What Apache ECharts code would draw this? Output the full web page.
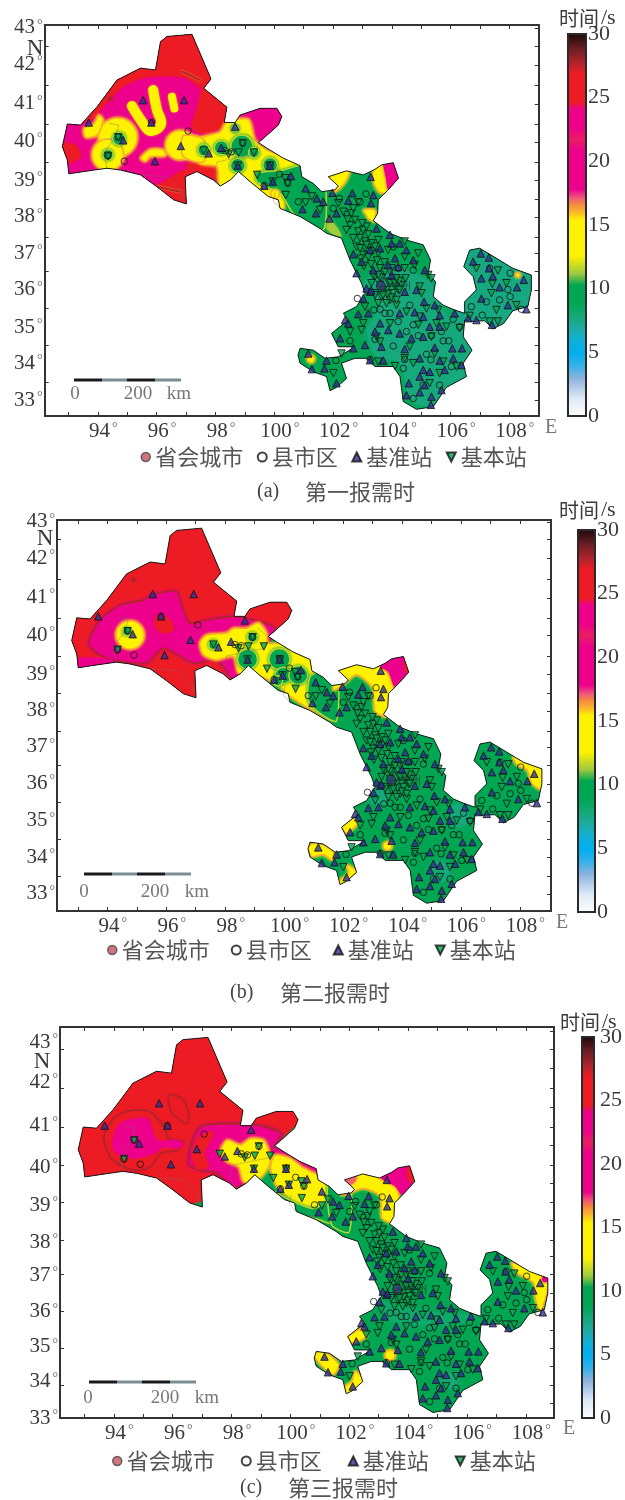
<!DOCTYPE html>
<html><head><meta charset="utf-8">
<style>html,body{margin:0;padding:0;background:#fff;overflow:hidden}#c{width:625px;height:1500px}</style>
<script src="https://cdn.jsdelivr.net/npm/echarts@6/dist/echarts.min.js"></script>
</head><body><div id="c"></div>
<script>
// ---------- colour scale (time, s) ----------
const colorStops=[[0,'#ffffff'],[1.5,'#dbe8f5'],[3,'#8db3dd'],[4,'#35b1e8'],[5,'#00aeef'],[6,'#11b0d6'],[7,'#1dab9e'],[8,'#13a874'],[9,'#00a651'],[10.3,'#00a651'],[11.2,'#9ec93f'],[12.6,'#fff200'],[15.4,'#fff200'],[16,'#fbb62c'],[16.6,'#f58a3e'],[17.2,'#ee4f7d'],[17.8,'#ec008c'],[20.8,'#ec008c'],[21.7,'#e91e63'],[22.6,'#ec008c'],[24,'#ec008c'],[24.6,'#ed1c24'],[26.8,'#ed1c24'],[27.6,'#b4232b'],[28.8,'#6a1f24'],[30,'#1c0707']];
// ---------- axes ----------
const lonTicks=[93,94,95,96,97,98,99,100,101,102,103,104,105,106,107,108];
const lonLabels=[94,96,98,100,102,104,106,108];
const latNames=[43,42,41,40,39,38,37,36,35,34,33];
const latPos=[43.00,42.01,40.96,39.94,38.91,37.92,36.95,35.96,34.96,33.99,33.00];
const latPosC=[42.70,41.63,40.47,39.34,38.32,37.33,36.44,35.45,34.51,33.59,32.60];
const latHalf=[42.52,41.47,40.42,39.40,38.40,37.38,36.47,35.47,34.48,33.48];
// ---------- province outline (lon, lat) ----------
const outline=[[96.13,42.63],[96.35,42.77],[97.20,42.83],[97.85,41.63],[97.60,41.38],[98.39,40.87],[98.30,40.46],[98.67,40.46],[98.84,40.66],[99.52,40.84],[100.09,40.84],[100.26,40.62],[100.14,40.39],[99.63,40.03],[99.46,39.92],[99.75,39.77],[100.31,39.50],[100.88,39.30],[100.94,39.00],[101.33,38.82],[101.62,38.60],[102.07,38.65],[102.18,38.75],[101.84,39.00],[102.46,39.16],[103.03,39.05],[103.43,39.20],[103.65,39.32],[104.05,39.38],[104.23,38.96],[103.88,38.65],[103.54,38.38],[103.52,38.02],[103.37,37.82],[103.94,37.48],[104.50,37.30],[105.07,37.17],[105.32,36.76],[105.24,36.41],[105.49,36.18],[105.41,35.78],[105.75,35.55],[106.14,35.42],[106.48,35.33],[106.48,35.64],[106.88,35.96],[106.77,36.32],[106.45,36.58],[106.65,37.03],[106.99,37.08],[107.56,36.81],[108.12,36.54],[108.75,36.36],[108.75,35.96],[108.63,35.51],[108.12,35.40],[107.81,35.06],[107.44,34.91],[107.16,35.13],[106.65,35.11],[106.48,35.15],[106.43,34.70],[106.73,34.34],[106.43,33.99],[106.54,33.63],[105.86,33.34],[105.41,32.82],[104.84,32.75],[104.39,32.96],[104.28,33.63],[104.05,33.90],[103.43,33.90],[103.14,34.12],[102.75,34.12],[102.29,33.99],[102.46,33.58],[102.12,33.34],[101.90,33.25],[101.78,33.63],[101.33,33.76],[100.88,33.99],[100.81,34.21],[100.88,34.39],[101.33,34.34],[101.73,34.12],[102.18,34.16],[102.75,34.43],[102.18,34.43],[101.95,34.79],[102.52,35.15],[102.35,35.33],[102.80,35.51],[103.09,35.87],[102.97,36.14],[102.58,36.76],[102.29,37.35],[101.78,37.48],[101.56,37.61],[100.88,37.93],[100.20,38.15],[100.14,38.38],[99.80,38.47],[99.18,38.87],[98.79,39.14],[98.50,38.91],[98.16,38.75],[97.94,38.91],[97.37,39.14],[96.97,39.00],[97.01,38.27],[96.58,38.38],[96.01,38.73],[95.45,39.05],[94.77,39.18],[94.31,39.23],[93.86,39.18],[93.01,39.08],[92.96,39.45],[92.79,39.81],[92.96,40.42],[93.41,40.39],[93.98,40.89],[94.65,41.60],[95.45,41.92],[95.96,41.87]];
const boundaries=[[[94.37,40.44],[94.71,40.39],[94.6,40.08],[94.2,39.63],[94.31,39.23]],[[95.45,39.05],[96.35,39.0],[96.92,38.55],[96.86,38.38]],[[99.07,40.17],[99.46,39.9],[99.3,39.6],[98.05,39.4],[97.94,39.05],[98.16,38.75]],[[100.03,38.6],[99.97,38.35],[100.2,38.15]]];
// ---------- stations (lon, lat) ----------
const refStations=[[93.69,40.46],[95.54,41.06],[96.93,41.06],[95.82,40.46],[94.86,39.98],[95.94,39.42],[96.82,39.83],[98.67,40.35],[97.77,39.63],[98.20,39.78],[100.57,39.02],[101.07,38.69],[101.45,38.42],[100.96,38.13],[101.42,38.02],[99.66,38.76],[98.76,39.30],[99.95,38.87],[99.85,39.30],[103.28,39.00],[101.67,38.33],[101.98,38.57],[102.52,38.36],[102.66,38.56],[103.37,38.51],[103.29,38.29],[101.88,37.88],[102.12,38.02],[103.48,37.61],[103.94,37.44],[103.99,37.21],[104.50,37.03],[104.27,37.21],[102.69,36.92],[102.97,36.72],[103.26,37.03],[103.60,37.08],[104.11,36.81],[104.73,36.76],[104.22,36.58],[105.12,36.49],[102.80,36.41],[103.37,36.49],[103.88,36.63],[104.84,35.96],[104.44,35.91],[105.10,35.64],[105.46,35.55],[103.26,35.91],[103.03,35.73],[102.41,35.15],[102.86,35.31],[103.20,35.33],[103.60,35.06],[102.52,35.06],[103.43,34.84],[103.88,34.88],[104.27,34.79],[104.78,35.36],[104.27,35.33],[105.07,35.24],[105.63,35.28],[106.14,35.33],[105.29,34.97],[105.63,34.97],[105.07,34.70],[104.67,34.66],[103.65,34.43],[103.09,34.48],[102.69,34.39],[102.24,34.66],[104.44,34.37],[105.46,34.41],[106.06,34.39],[106.39,34.39],[107.03,36.94],[107.30,36.83],[106.77,36.72],[107.31,36.54],[107.05,36.27],[107.44,36.33],[107.67,36.03],[108.26,36.03],[108.49,36.23],[107.05,35.73],[107.95,35.55],[108.58,35.44],[106.60,35.20],[106.88,35.15],[107.41,35.02],[104.95,34.12],[105.63,34.06],[106.09,34.12],[106.37,33.94],[105.80,33.81],[105.07,33.81],[104.58,33.45],[104.95,33.63],[105.29,33.76],[105.12,33.40],[105.69,33.27],[104.95,33.21],[104.50,33.13],[105.35,33.09],[105.33,32.87],[103.71,34.06],[103.26,34.07],[101.78,34.06],[102.12,33.45],[101.28,33.83],[101.71,33.85],[101.16,34.25],[103.14,36.0],[103.3,35.95],[104.0,36.35]];
const baseStations=[[94.35,39.56],[94.69,40.06],[97.60,39.70],[98.45,39.60],[98.79,39.65],[98.93,39.90],[99.31,39.65],[98.76,39.30],[99.85,39.30],[99.42,39.05],[99.95,38.87],[100.37,38.96],[100.46,38.83],[100.39,38.51],[101.07,38.31],[101.28,38.47],[101.56,38.11],[102.86,38.31],[102.18,38.29],[102.46,37.97],[102.63,38.02],[102.75,37.84],[102.58,37.70],[102.86,37.53],[103.03,37.57],[102.46,37.57],[103.14,37.66],[102.92,37.35],[102.69,37.35],[103.09,37.26],[103.31,37.21],[103.54,37.30],[102.80,37.12],[103.09,37.08],[103.31,36.99],[103.54,36.94],[103.03,36.90],[103.88,37.03],[104.44,37.26],[104.90,36.94],[104.44,36.85],[104.78,36.63],[104.44,36.54],[104.47,36.27],[103.60,36.54],[103.77,36.45],[103.43,36.32],[103.65,36.27],[103.94,36.45],[104.11,36.27],[103.88,36.18],[103.60,36.09],[104.11,36.05],[104.33,36.09],[103.82,35.96],[104.05,35.87],[103.94,35.69],[104.22,35.96],[103.43,35.87],[103.65,35.78],[104.95,36.05],[105.01,35.87],[105.24,36.36],[105.35,36.27],[104.16,35.55],[103.82,35.60],[103.09,35.51],[102.58,34.84],[103.03,35.06],[102.97,34.88],[103.48,34.70],[103.60,34.57],[103.94,35.06],[104.50,35.37],[104.90,35.02],[104.95,35.24],[105.18,35.46],[105.58,35.42],[105.35,34.70],[105.52,35.06],[106.31,34.93],[105.86,34.97],[105.46,34.25],[104.61,34.43],[105.75,34.03],[106.20,33.90],[104.44,34.12],[104.73,33.99],[103.54,34.03],[104.11,33.91],[102.29,34.25],[102.01,33.72],[105.63,33.72],[105.29,33.45],[106.65,35.26],[106.88,36.54],[107.61,36.48],[107.90,36.14],[107.42,36.12],[107.39,35.87],[108.24,35.55],[107.56,35.42],[107.61,35.11],[107.33,35.11],[102.35,38.06],[102.69,38.15],[102.5,37.85],[103.2,37.45],[103.0,37.75],[103.75,36.7],[103.6,36.3],[103.95,36.15],[104.0,35.75],[103.7,35.95],[104.25,36.2],[103.85,35.85],[104.1,36.15],[103.37,36.36],[103.54,36.36],[103.99,36.54],[103.31,36.14],[104.16,36.27],[103.71,35.82],[104.16,35.69],[104.27,35.96],[103.43,35.82],[103.54,35.60],[102.92,37.08],[103.14,37.17],[103.43,37.12],[102.95,36.8],[103.2,36.85],[103.5,36.75],[103.05,36.6],[103.3,36.65]];
const countyTowns=[[94.69,40.07],[94.34,39.56],[94.90,39.42],[97.07,40.23],[95.82,40.46],[98.93,39.90],[98.33,39.70],[98.54,39.67],[99.86,39.32],[100.18,39.07],[100.46,38.83],[99.66,38.76],[100.82,38.33],[103.12,38.54],[102.01,38.15],[102.22,38.42],[102.92,38.33],[104.05,37.12],[104.73,36.49],[104.22,36.54],[102.83,35.73],[103.39,35.42],[103.60,35.44],[103.77,35.33],[103.94,35.33],[104.61,35.55],[104.22,35.11],[104.50,34.84],[104.73,35.02],[104.90,34.73],[105.35,34.73],[105.75,34.59],[105.94,34.59],[105.69,34.84],[106.09,35.17],[106.31,34.97],[104.05,34.45],[103.43,34.63],[102.58,34.59],[102.10,34.06],[103.26,34.09],[104.44,34.09],[105.18,34.23],[105.33,34.08],[104.39,33.85],[105.07,33.40],[104.73,33.04],[105.63,33.40],[106.71,35.51],[107.22,35.64],[107.67,35.69],[108.03,36.41],[108.03,35.78],[107.33,36.54],[107.95,35.97],[108.41,35.44],[107.08,35.28],[106.03,33.90]];
const capitalCity=[[103.63,36.07]];
// ---------- interpolated field, layers drawn in order: v = time in s ----------
const fieldA=[
{v:9.6,p:[[92,44],[110,44],[110,32],[92,32]]},
{v:7.8,p:[[103.03,36.14],[104.05,36.58],[105.35,36.14],[105.75,35.42],[106.76,34.34],[106.54,33.63],[105.41,32.82],[104.61,33.0],[104.27,33.99],[103.48,34.16],[103.14,34.88],[103.60,35.51]]},
{v:7.7,p:[[106.3,37.2],[108.9,37.2],[108.9,34.8],[106.3,34.8]]},
{v:11.3,p:[[101.5,37.85],[101.88,37.88],[102.3,37.4],[101.95,37.48]]},
{v:19,p:[[92.62,43.04],[100.54,43.04],[100.54,40.35],[99.63,39.81],[98.84,38.73],[92.62,38.02]]},
{v:25.5,p:[[96.01,42.95],[97.37,42.95],[98.62,40.80],[98.33,40.84],[97.60,41.33],[97.03,41.65],[96.35,41.71],[95.56,41.67],[94.88,41.44],[94.43,41.11],[94.09,40.80],[93.75,40.53],[92.73,40.44],[94.09,41.60],[95.56,42.23]]},
{v:25.5,p:[[97.60,41.38],[98.50,40.89],[98.39,40.44],[97.71,40.17],[97.20,40.30],[97.37,40.80]]},
{v:25.5,p:[[96.01,38.73],[96.35,38.91],[97.03,39.18],[97.09,38.15],[96.47,38.29]]},
{v:25.5,p:[[92.73,39.90],[93.24,39.85],[93.41,39.54],[92.96,39.36],[92.73,39.54]]},
{v:24.8,p:[[97.03,39.36],[98.05,39.23],[98.28,38.87],[97.71,39.0],[97.14,39.09]]},
{v:23,p:[[99.63,40.85],[100.1,40.9],[100.3,40.6],[100.1,40.33],[99.8,40.2]]},
{v:27.6,c:[94.43,41.1],r:.08},
{v:27.6,l:[[96.86,41.83],[97.48,41.60]],w:2},
{v:27.6,l:[[96.01,38.73],[96.8,38.6]],w:2},
{v:14,p:[[97.37,39.99],[98.16,40.21],[98.39,40.48],[99.13,40.54],[99.35,39.99],[99.75,39.72],[100.94,39.32],[100.43,38.87],[100.31,38.11],[99.75,38.38],[99.07,38.91],[98.16,38.73],[98.05,39.27],[97.48,39.36]]},
{v:14,c:[96.80,39.85],r:.5},
{v:14,p:[[96.9,40.1],[97.6,40.0],[97.6,39.4],[96.9,39.55]]},
{v:14,p:[[95.45,39.50],[95.79,39.74],[96.24,39.72],[96.30,39.56],[95.79,39.54],[95.62,39.41]]},
{v:14,c:[94.68,40.06],r:.66},
{v:14,c:[94.34,39.59],r:.54},
{v:14,p:[[94.03,40.66],[94.18,40.53],[93.98,40.12],[93.58,40.06],[93.52,40.30],[93.86,40.42]]},
{v:14,l:[[95.16,40.90],[95.50,40.48],[95.79,40.23],[96.15,40.42],[96.01,40.80],[95.88,41.33]],w:10},
{v:14,l:[[96.52,41.15],[96.60,40.84]],w:8},
{v:9.6,c:[94.34,39.59],r:.18},
{v:9.6,c:[94.72,40.02],r:.22},
{v:9.6,c:[97.6,39.72],r:.2},
{v:9.6,c:[98.2,39.78],r:.24},
{v:9.6,c:[98.90,39.82],r:.38},
{v:9.6,c:[98.76,39.3],r:.25},
{v:11,c:[98.67,40.3],r:.18},
{v:9.6,c:[99.31,39.65],r:.18},
{v:9.6,c:[99.86,39.32],r:.25},
{v:9.6,p:[[99.41,39.09],[100.31,39.18],[100.99,39.32],[101.67,39.09],[101.67,37.57],[100.65,38.02],[100.26,38.51],[99.86,38.69],[99.41,38.87]]},
{v:14,c:[100.03,38.54],r:.15},
{v:14,p:[[101.78,39.09],[102.58,39.23],[102.46,38.91],[102.24,38.69],[102.01,38.60]]},
{v:14,p:[[103.39,39.36],[103.77,39.36],[103.91,38.60],[103.6,38.57],[103.39,38.82]]},
{v:19,p:[[103.73,39.45],[104.28,39.45],[104.28,38.87],[103.91,38.60],[103.80,38.96]]},
{v:14,p:[[103.03,38.11],[103.43,38.11],[103.43,37.79],[103.2,37.88],[103.09,38.02]]},
{v:14,c:[108.29,36.36],r:.08},
{v:13,c:[101.25,34.1],r:.13}
];
const fieldB=[
{v:9.6,p:[[92,44],[110,44],[110,32],[92,32]]},
{v:7.8,c:[103.2,35.6],r:.3},{v:7.8,c:[105.9,35.1],r:.4},{v:7.8,c:[105.3,33.6],r:.35},
{v:25.5,p:[[92.62,43.05],[100.54,43.05],[100.54,40.46],[99.52,39.83],[98.28,38.57],[92.62,38.21]]},
{v:27.6,c:[94.9,41.45],r:.08},
{v:19.5,s:27.6,w:2,p:[[93.35,39.74],[93.75,40.37],[94.43,40.77],[95.22,40.90],[95.50,41.04],[96.35,41.13],[96.58,40.63],[96.80,40.28],[97.37,40.37],[98.28,40.46],[99.18,40.32],[99.69,40.14],[99.52,39.83],[98.96,39.29],[98.28,38.75],[97.71,39.29],[96.92,39.20],[95.90,39.60],[95.33,39.20],[94.20,39.29],[93.64,39.47]]},
{v:20,p:[[93.01,39.33],[94.2,39.29],[94.25,39.11],[93.01,39.07]]},
{v:25,p:[[95.67,40.46],[96.07,40.41],[96.24,40.10],[95.90,40.01],[95.62,40.19]]},
{v:14,c:[94.77,39.96],r:.48},
{v:9.6,c:[94.65,40.05],r:.13},
{v:14,p:[[97.14,39.74],[97.37,39.96],[98.05,40.01],[98.28,40.14],[98.73,40.14],[99.13,40.29],[99.41,40.01],[99.46,39.74],[100.09,39.74],[101.22,39.29],[101.67,38.93],[101.67,37.68],[100.20,38.30],[99.86,38.57],[98.96,38.93],[98.45,38.93],[98.28,39.38],[97.71,39.29],[97.26,39.42]]},
{v:9.6,c:[98.76,39.31],r:.34},{v:9.6,c:[99.84,39.31],r:.36},{v:9.6,c:[99.97,38.87],r:.28},{v:9.6,c:[100.48,38.88],r:.32},{v:9.6,c:[98.92,39.90],r:.17},{v:9.6,c:[97.6,39.7],r:.16},{v:9.6,c:[99.78,38.73],r:.17},
{v:9.6,p:[[100.88,38.84],[101.22,38.98],[101.78,39.1],[101.78,37.65],[101.22,37.85],[100.82,38.2]]},
{v:14,p:[[101.84,39.02],[102.58,39.20],[103.31,39.11],[103.71,38.66],[103.54,37.77],[103.09,37.90],[103.0,38.53],[102.46,38.89],[102.01,38.62],[101.67,38.48]]},
{v:19.5,p:[[103.26,39.11],[103.94,39.40],[104.33,39.2],[104.28,38.80],[103.77,38.56],[103.54,38.98]]},
{v:25,p:[[104.1,39.35],[104.35,39.2],[104.25,38.9],[104.1,39.0]]},
{v:14,p:[[107.78,36.69],[108.75,36.38],[108.75,35.80],[108.41,35.97],[108.24,36.33],[107.9,36.47]]},
{v:14,p:[[101.95,34.81],[102.35,35.03],[102.49,34.88],[102.12,34.63]]},
{v:14,c:[103.51,34.29],r:.15},
{v:14,p:[[100.82,34.27],[101.11,34.38],[101.67,34.14],[101.62,33.91],[101.33,34.05],[100.94,34.0]]},
{v:14,p:[[102.12,33.78],[102.49,33.60],[102.41,33.42],[101.90,33.20],[101.84,33.33],[102.18,33.56]]}
];
const fieldC=[
{v:9.6,p:[[92,44],[110,44],[110,32],[92,32]]},
{v:8.2,p:[[102.83,35.83],[103.73,35.56],[106.33,35.34],[105.66,35.11],[103.51,35.16]]},{v:8,c:[105.4,33.6],r:.3},
{v:25.5,p:[[92.75,43.2],[100.56,43.2],[100.56,40.88],[99.54,39.98],[98.30,38.73],[92.75,38.19]]},
{v:25.2,s:27.6,w:2,p:[[93.66,40.16],[94.05,40.70],[94.68,40.88],[95.24,40.83],[95.70,40.43],[95.87,40.11],[96.37,40.03],[96.15,39.80],[95.58,39.71],[95.24,39.35],[94.79,39.26],[94.34,39.35],[93.88,39.62]]},
{v:19.5,p:[[93.94,39.98],[94.22,40.52],[95.13,40.65],[95.47,40.07],[96.15,40.07],[96.37,39.96],[96.15,39.85],[95.70,39.89],[95.36,39.71],[94.68,39.58],[94.11,39.71]]},
{v:25,s:27.6,w:2,p:[[95.87,41.28],[96.32,41.19],[96.54,40.83],[96.49,40.52],[95.98,40.79]]},
{v:19.5,s:27.6,w:2.5,p:[[96.54,39.40],[96.60,39.89],[96.94,40.43],[98.07,40.52],[99.20,40.43],[99.71,40.23],[99.43,39.85],[98.75,39.08],[98.07,38.77],[97.51,39.17],[96.94,39.26]]},
{v:25,p:[[96.66,39.62],[96.83,40.11],[97.39,40.29],[97.08,39.71],[97.22,39.35],[96.83,39.31]]},
{v:19.5,p:[[99.37,39.8],[99.85,39.85],[100.95,39.35],[100.95,39.05],[100.0,39.4]]},
{v:14,p:[[97.62,39.76],[97.85,40.07],[98.30,39.94],[98.64,40.11],[99.09,40.07],[99.32,39.62],[99.20,39.26],[98.86,38.98],[98.41,38.95],[98.24,39.35],[97.85,39.49]]},
{v:14,p:[[99.32,39.35],[99.49,39.67],[100.0,39.58],[100.39,39.35],[100.85,39.17],[101.47,38.90],[101.92,38.55],[101.47,38.0],[100.85,38.19],[100.17,38.19],[100.0,38.46],[99.54,38.82]]},
{v:9.6,p:[[99.49,38.68],[100.11,38.14],[101.02,37.92],[101.47,37.83],[101.92,38.73],[101.24,38.41],[100.79,38.23],[100.22,38.37],[99.77,38.55]]},
{v:9.6,p:[[101.3,39.0],[102,39.05],[102,37.6],[101.4,37.8]]},
{v:14,p:[[101.81,39.01],[102.43,39.19],[103.05,39.06],[103.68,38.79],[103.51,37.85],[103.11,37.98],[103.05,38.56],[102.49,38.77],[101.92,38.61],[101.69,38.61]]},
{v:17,p:[[101.75,39.01],[102.25,39.15],[102.2,38.95],[101.95,38.85]]},
{v:19.5,p:[[103.05,39.08],[103.73,39.34],[104.18,39.37],[104.18,38.97],[103.79,38.61],[103.56,38.83]]},
{v:25,p:[[104.0,39.35],[104.2,39.3],[104.2,38.95],[104.0,39.0]]},
{v:14,p:[[101.86,34.71],[102.43,35.01],[102.60,34.80],[102.15,34.62]]},
{v:14,c:[103.39,34.29],r:.18},
{v:14,p:[[100.79,34.31],[101.13,34.40],[101.64,34.04],[101.47,33.77],[101.02,34.04]]},
{v:14,p:[[102.20,33.86],[102.49,33.59],[101.86,33.22],[101.75,33.39],[102.09,33.59]]},
{v:14,p:[[107.52,36.77],[108.03,36.64],[108.71,36.32],[108.71,35.92],[108.49,35.47],[108.32,35.83],[108.26,36.24],[107.69,36.50]]},
{v:19.5,c:[108.65,36.33],r:.1}
];
// ---------- helpers ----------
function hex(c){return [1,3,5].map(i=>parseInt(c.substr(i,2),16));}
function colorOf(v){
  for(let i=1;i<colorStops.length;i++){
    if(v<=colorStops[i][0]){
      const a=colorStops[i-1],b=colorStops[i],t=(v-a[0])/(b[0]-a[0]),x=hex(a[1]),y=hex(b[1]);
      return 'rgb('+x.map((q,k)=>Math.round(q+(y[k]-q)*t)).join(',')+')';
    }
  }
  return colorStops[colorStops.length-1][1];
}
const serif='"Liberation Serif",serif', cjk='"Noto Sans CJK SC",sans-serif', ink='#3a3a3a';
function edgeFor(v){ if(v>=13&&v<=15) return 16.2; if(v>=9&&v<=10) return 11.6; return null; }
function fieldSeries(field,ax){
  return {type:'custom',name:'field',silent:true,xAxisIndex:ax,yAxisIndex:ax,coordinateSystem:'cartesian2d',clip:true,z:1,
    data:field.map((_,i)=>[i]),encode:{x:-1,y:-1},
    renderItem(params,api){
      const r=field[params.dataIndex],fill=colorOf(r.v),first=params.dataIndex===0;
      const pts=o=>o.map(p=>api.coord(p));
      const e=r.s!==undefined?r.s:(first?null:edgeFor(r.v));
      const stroke=e?colorOf(e):fill, w=r.w||(e?1.5:0), blur=r.v<9?12:3;
      let el;
      if(r.p) el={type:'polygon',shape:{points:pts(r.p),smooth:.25},style:{fill,stroke,lineWidth:w,shadowBlur:blur,shadowColor:fill}};
      else if(r.c){const c=api.coord(r.c);el={type:'circle',shape:{cx:c[0],cy:c[1],r:api.size([r.r,0])[0]},style:{fill,stroke,lineWidth:w,shadowBlur:blur,shadowColor:fill}};}
      else el={type:'polyline',shape:{points:pts(r.l),smooth:.4},style:{fill:'none',stroke:fill,lineWidth:r.w,lineCap:'round',shadowBlur:2,shadowColor:colorOf(16.2)}};
      return {type:'group',clipPath:{type:'polygon',shape:{points:pts(outline)}},children:[el]};
    }};
}
function borderSeries(ax){
  return {type:'custom',name:'outline',silent:true,xAxisIndex:ax,yAxisIndex:ax,z:2,clip:true,data:[[0]],encode:{x:-1,y:-1},
    renderItem(params,api){
      const kids=boundaries.map(b=>({type:'polyline',shape:{points:b.map(p=>api.coord(p))},style:{fill:'none',stroke:'rgba(110,110,110,.55)',lineWidth:.7}}));
      kids.push({type:'polygon',shape:{points:outline.map(p=>api.coord(p))},style:{fill:'none',stroke:'#1a1a1a',lineWidth:1}});
      return {type:'group',children:kids};
    }};
}
function stationSeries(ax){
  const c={xAxisIndex:ax,yAxisIndex:ax,type:'scatter',silent:true,clip:true,animation:false};
  return [
   {...c,name:'基本站',data:baseStations,z:4,symbol:'triangle',symbolRotate:180,symbolSize:7.5,itemStyle:{color:'#00a651',borderColor:'#111',borderWidth:1}},
   {...c,name:'县市区',data:countyTowns,z:5,symbol:'circle',symbolSize:6.5,itemStyle:{color:'rgba(0,0,0,0)',borderColor:'#111',borderWidth:1}},
   {...c,name:'基准站',data:refStations,z:6,symbol:'triangle',symbolSize:7.5,itemStyle:{color:'#2e3192',borderColor:'#111',borderWidth:1}},
   {...c,name:'省会城市',data:capitalCity,z:7,symbol:'circle',symbolSize:9,itemStyle:{color:'#34386f',borderColor:'#222',borderWidth:1},
     label:{show:true,formatter:'兰州',position:'right',distance:3,fontFamily:cjk,fontSize:11,color:'#1d3b2a'}}
  ];
}
const deg=n=>'{n|'+n+'}{d|°}';
const lblRich={n:{fontFamily:serif,fontSize:21,color:ink},d:{fontFamily:serif,fontSize:14,color:'#666',padding:[0,0,6,2]},s:{width:11}};
const frame={show:true,onZero:false,lineStyle:{color:'#333',width:2}};
const panels=[
 {g:[44.7,25],x:[92.19,109],y:[32.57,43.08],latL:latPos,cb:[568,34,18,382],cbPad:0,cbM:2,
  leg:{left:135.5,top:441,gap:13.5},cap:['(a)',257,'第一报需时',305,492],title:[559,18],N:[35,49],E:[551,428],
  sb:[74,380,75,138,179,394],field:fieldA},
 {g:[57,520],x:[92.29,109.06],y:[32.54,43.05],latL:latPos,cb:[578,530,17,382],cbPad:0,cbM:2,
  leg:{left:102,top:934,gap:21},cap:['(b)',230,'第二报需时',280,993],title:[559,510],N:[45,539],E:[562,923],
  sb:[84,874,84,155,197,892],field:fieldB},
 {g:[60,1027],x:[92.17,108.96],y:[32.60,43.11],latL:latPosC,cb:[582,1037,16,381],cbPad:24,cbM:6,
  leg:{left:107,top:1445,gap:26},cap:['(c)',240,'第三报需时',288,1488],title:[560,1022],N:[42,1062],E:[569,1429],
  sb:[89,1382,88,165,207,1398],field:fieldC}
];
const grid=[],xAxis=[],yAxis=[],series=[],legend=[],graphic=[];
const latAll=latPos.concat(latHalf).sort((a,b)=>a-b);
const downIcon='path://M0,0L10,0L5,10Z';
panels.forEach((P,i)=>{
  const ax=i*3;
  grid.push({left:P.g[0],top:P.g[1],width:494,height:391});
  const gi=grid.length-1;
  xAxis.push({type:'value',gridIndex:gi,position:'bottom',min:P.x[0],max:P.x[1],axisLine:frame,splitLine:{show:false},
    axisTick:{show:true,inside:true,length:4,customValues:lonTicks,lineStyle:{color:'#333',width:1}},
    axisLabel:{show:true,customValues:lonLabels,margin:5,hideOverlap:false,showMinLabel:true,showMaxLabel:true,formatter:v=>'{s|}{n|'+v+'}{d|°}',rich:lblRich}});
  xAxis.push({type:'value',gridIndex:gi,position:'top',min:P.x[0],max:P.x[1],axisLine:frame,splitLine:{show:false},
    axisTick:{show:true,inside:true,length:4,customValues:lonTicks,lineStyle:{color:'#333',width:1}},axisLabel:{show:false}});
  yAxis.push({type:'value',gridIndex:gi,position:'left',min:P.y[0],max:P.y[1],axisLine:frame,splitLine:{show:false},
    axisTick:{show:true,inside:true,length:4,customValues:latHalf,lineStyle:{color:'#333',width:1}},
    axisLabel:{show:true,customValues:P.latL,margin:2,hideOverlap:false,showMinLabel:true,showMaxLabel:true,
      formatter:v=>deg(latNames[P.latL.indexOf(v)]),rich:lblRich}});
  yAxis.push({type:'value',gridIndex:gi,position:'right',min:P.y[0],max:P.y[1],axisLine:frame,splitLine:{show:false},
    axisTick:{show:true,inside:true,length:4,customValues:latAll,lineStyle:{color:'#333',width:1}},axisLabel:{show:false}});
  series.push(fieldSeries(P.field,ax));
  series.push(borderSeries(ax));
  series.push(...stationSeries(ax));
  legend.push({left:P.leg.left,top:P.leg.top,itemGap:P.leg.gap,itemWidth:9,itemHeight:9,selectedMode:false,orient:'horizontal',
    data:[{name:'省会城市',itemStyle:{color:'#c4535c',borderColor:'#444',borderWidth:1.5}},'县市区','基准站',{name:'基本站',icon:downIcon}],textStyle:{fontFamily:cjk,fontSize:22,color:'#555'}});
  // colour bar
  grid.push({left:P.cb[0],top:P.cb[1],width:P.cb[2],height:P.cb[3]});
  const cbi=grid.length-1;
  xAxis.push({type:'value',gridIndex:cbi,min:0,max:1,show:false});
  yAxis.push({type:'value',gridIndex:cbi,position:'right',min:0,max:30,interval:5,axisLine:{show:false},splitLine:{show:false},
    axisTick:{show:true,inside:false,length:3,lineStyle:{color:'#333'}},
    axisLabel:{show:true,margin:P.cbM,fontFamily:serif,fontSize:22,color:ink,padding:[P.cbPad,0,0,0],showMinLabel:true,showMaxLabel:true}});
  series.push({type:'custom',name:'colorbar',silent:true,xAxisIndex:xAxis.length-1,yAxisIndex:yAxis.length-1,data:[[0,0]],clip:false,encode:{x:-1,y:-1},
    renderItem(params,api){
      const a=api.coord([0,30]),b=api.coord([1,0]);
      return {type:'rect',shape:{x:a[0],y:a[1],width:b[0]-a[0],height:b[1]-a[1]},
        style:{fill:new echarts.graphic.LinearGradient(0,1,0,0,colorStops.map(s=>({offset:s[0]/30,color:s[1]}))),stroke:'#2a2a2a',lineWidth:2}};
    }});
  // annotations
  const [sx,sy,s0,s200,skm,sly]=P.sb, segs=[[0,28,'#1a1a1a'],[28,53,'#7b8d93'],[53,81,'#1a1a1a'],[81,107,'#7b8d93']];
  segs.forEach(s=>graphic.push({type:'rect',shape:{x:sx+s[0],y:sy-1.5,width:s[1]-s[0],height:3},style:{fill:s[2]}}));
  const T=(text,x,y,font,size,fill,align)=>graphic.push({type:'text',x,y,style:{text,fontFamily:font,fontSize:size,fill,align:align||'center',verticalAlign:'middle'}});
  T('0',s0,sly,serif,19,'#777');T('200',s200,sly,serif,19,'#777');T('km',skm,sly,serif,19,'#777');
  T('N',P.N[0],P.N[1],serif,23,ink);T('E',P.E[0],P.E[1],serif,20,'#777');
  T(P.cap[0],P.cap[1],P.cap[4],serif,20,'#444','left');T(P.cap[2],P.cap[3],P.cap[4],cjk,22,'#555','left');
  T('时间',P.title[0],P.title[1],cjk,20,ink,'left');T('/s',P.title[0]+42,P.title[1],serif,22,ink,'left');
});
const chart=echarts.init(document.getElementById('c'),null,{renderer:'canvas',width:625,height:1500});
chart.setOption({animation:false,backgroundColor:'#fff',tooltip:{show:false},grid,xAxis,yAxis,series,legend,graphic});
</script></body></html>
